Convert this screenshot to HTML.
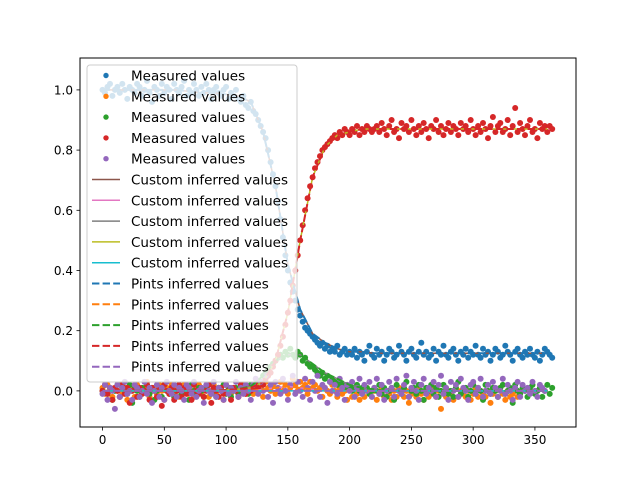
<!DOCTYPE html>
<html><head><meta charset="utf-8">
<style>
body{margin:0;background:#fff;}
svg text{font-family:"DejaVu Sans","Liberation Sans",sans-serif;}
</style></head>
<body>
<svg id="chart" width="640" height="480" xmlns="http://www.w3.org/2000/svg">
<rect width="640" height="480" fill="#fff"/>
<g id="plot"></g>
</svg>
<script>
const xTicks=[0,50,100,150,200,250,300,350];
const yTicks=[0.0,0.2,0.4,0.6,0.8,1.0];
const yTickLabels=["0.0","0.2","0.4","0.6","0.8","1.0"];
const step=2;
const measBlue=[1.00,0.99,1.01,1.02,0.98,1.00,1.01,0.99,1.02,1.00,0.97,1.01,1.00,0.99,1.02,1.01,0.98,1.00,1.03,0.99,0.96,1.01,1.00,0.98,1.02,0.99,1.01,1.00,0.97,1.02,1.00,0.99,1.01,1.03,0.98,1.00,0.99,1.02,1.00,0.98,1.01,0.99,1.02,1.00,0.97,1.00,1.01,0.99,0.98,1.00,1.01,0.97,0.99,0.98,1.00,0.97,
0.96,0.98,0.95,0.94,0.96,0.93,0.92,0.90,0.88,0.86,0.84,0.80,0.76,0.72,0.68,0.63,0.57,0.51,0.45,0.40,0.36,0.33,0.30,0.27,0.25,0.23,0.21,0.20,0.19,0.18,0.17,0.16,0.15,0.16,0.14,0.15,0.13,0.14,0.13,0.15,0.12,0.13,0.14,0.12,0.13,
0.12,0.14,0.11,0.13,0.12,0.10,0.13,0.15,0.12,0.11,0.14,0.12,0.13,0.10,0.12,0.14,0.13,0.11,0.12,0.15,0.13,0.12,0.10,0.13,0.14,0.12,0.11,0.13,0.16,0.12,0.13,0.11,0.12,0.14,0.10,0.13,0.12,0.15,0.12,0.11,0.13,0.14,0.12,0.10,0.13,0.12,0.14,0.11,0.13,0.12,0.15,0.12,0.11,0.14,0.12,0.13,0.10,0.12,0.14,0.13,0.11,0.12,0.15,0.13,0.12,0.10,0.13,0.14,0.12,0.11,0.13,0.12,0.14,0.12,0.11,0.13,0.10,0.12,0.14,0.13,0.12,0.11];
const measOrange=[0.01,-0.01,0.02,0.00,-0.02,0.01,0.00,0.02,-0.01,0.01,-0.03,0.00,0.01,-0.02,0.02,0.00,-0.01,0.01,0.03,-0.02,0.00,0.01,-0.01,0.02,0.00,-0.03,0.01,0.00,0.02,-0.01,0.01,-0.02,0.00,0.02,0.01,-0.01,0.00,-0.02,0.01,0.02,-0.01,0.00,0.01,-0.02,0.00,0.02,-0.01,0.01,0.00,-0.03,0.02,0.00,-0.01,0.01,0.00,-0.02,0.01,0.02,-0.01,0.00,0.01,
-0.01,0.02,0.00,0.01,-0.02,0.03,0.01,0.00,0.02,-0.01,0.01,0.03,0.00,0.02,-0.01,0.01,0.04,0.02,0.00,0.03,0.01,0.02,-0.01,0.03,0.01,0.02,0.00,0.01,-0.02,0.01,0.00,-0.01,0.02,0.00,-0.02,0.01,-0.01,0.00,-0.03,0.01,-0.02,0.00,-0.01,-0.03,0.00,-0.02,0.01,
-0.01,-0.02,0.00,-0.03,-0.01,0.01,-0.02,0.00,-0.01,-0.03,0.00,-0.02,0.01,-0.01,-0.02,0.00,-0.04,-0.01,0.00,-0.02,0.01,-0.01,-0.03,0.00,-0.02,-0.01,0.01,-0.02,0.00,-0.06,-0.01,-0.02,0.00,-0.01,-0.03,0.01,-0.02,0.00,-0.01,-0.02,0.00,-0.03,-0.01,0.01,-0.02,0.00,-0.01,-0.02,0.00,-0.04,-0.01,0.00,-0.02,0.01,-0.01,-0.03,0.00,-0.02,-0.01,0.00,-0.02,-0.01];
const measGreen=[0.00,0.02,-0.01,0.01,-0.03,0.00,0.02,-0.02,0.01,0.00,-0.01,0.02,-0.04,0.01,0.00,-0.02,0.01,0.00,0.02,-0.01,0.01,-0.03,0.00,0.01,-0.02,0.02,0.00,-0.01,0.01,-0.02,0.00,0.02,-0.01,0.00,0.01,-0.03,0.02,0.00,-0.01,0.01,0.00,-0.02,0.01,0.02,-0.01,0.00,-0.02,0.01,0.00,0.02,-0.01,0.01,-0.02,0.00,0.01,-0.01,0.02,0.00,0.01,-0.01,0.02,
0.01,0.02,0.03,0.03,0.05,0.06,0.07,0.08,0.09,0.10,0.11,0.12,0.11,0.13,0.12,0.14,0.12,0.11,0.13,0.12,0.10,0.11,0.09,0.08,0.08,0.07,0.06,0.05,0.06,0.04,0.05,0.03,0.04,0.03,0.02,0.03,0.02,0.01,0.02,0.01,0.00,0.01,0.02,0.00,0.01,0.00,0.01,-0.01,0.00,0.01,
0.00,0.02,-0.01,0.01,-0.02,0.00,0.01,-0.03,0.02,0.00,-0.01,0.01,0.03,-0.02,0.00,0.01,-0.01,0.02,0.00,-0.03,0.01,0.00,0.02,-0.01,0.01,-0.02,0.00,0.02,0.01,-0.01,0.00,-0.02,0.01,0.03,-0.01,0.00,0.01,-0.02,0.00,0.02,-0.01,0.01,0.00,-0.03,0.02,0.00,-0.01,0.01,0.00,-0.02,0.01,0.02,-0.01,0.00,0.01,-0.04,0.02,0.00,-0.01,0.01,0.00,-0.02,0.01,0.02,-0.01,0.00,0.01,-0.02,0.00,0.02,-0.01,0.01];
const measRed=[0.00,0.02,-0.01,0.01,-0.03,0.01,0.00,-0.02,0.02,-0.01,0.01,-0.04,0.00,0.02,-0.02,0.01,-0.01,0.00,0.02,-0.03,0.01,0.00,-0.02,0.01,-0.05,0.02,0.00,-0.01,0.01,-0.03,0.00,0.02,-0.02,0.01,-0.01,0.00,-0.03,0.02,0.00,-0.01,0.01,-0.02,0.00,0.02,-0.04,0.01,0.00,-0.02,0.01,-0.01,0.02,0.00,-0.03,0.01,0.00,-0.02,0.02,0.00,-0.01,0.01,0.00,
0.01,0.02,0.01,0.03,0.02,0.04,0.05,0.06,0.08,0.10,0.12,0.15,0.18,0.22,0.26,0.30,0.35,0.40,0.45,0.50,0.55,0.60,0.64,0.68,0.71,0.74,0.76,0.78,0.80,0.81,0.82,0.83,0.84,0.85,0.84,0.86,0.85,0.87,0.86,0.85,0.87,0.86,0.88,0.85,0.87,0.86,0.88,0.87,0.86,0.87,
0.88,0.86,0.89,0.87,0.85,0.88,0.90,0.86,0.87,0.84,0.89,0.87,0.88,0.86,0.90,0.87,0.85,0.88,0.86,0.89,0.87,0.84,0.88,0.87,0.90,0.86,0.88,0.85,0.87,0.89,0.86,0.88,0.87,0.85,0.89,0.87,0.88,0.86,0.90,0.87,0.85,0.88,0.86,0.89,0.87,0.84,0.88,0.91,0.86,0.88,0.89,0.86,0.87,0.90,0.85,0.88,0.94,0.86,0.89,0.87,0.85,0.88,0.90,0.86,0.87,0.84,0.89,0.87,0.88,0.86,0.88,0.87];
const measPurple=[-0.01,0.02,-0.03,0.01,0.00,-0.06,0.02,-0.02,0.01,0.03,-0.01,0.00,-0.03,0.02,0.01,-0.02,0.00,0.03,-0.01,0.01,-0.04,0.00,0.02,-0.02,0.01,-0.03,0.03,0.00,-0.01,0.02,-0.02,0.01,0.00,-0.03,0.02,0.01,-0.01,0.03,-0.02,0.00,0.01,-0.04,0.02,0.00,-0.01,0.03,-0.02,0.01,0.00,-0.03,0.02,-0.01,0.01,0.00,0.03,-0.02,0.01,-0.01,0.02,0.00,-0.03,
0.02,0.04,-0.01,0.03,0.00,0.05,-0.02,0.02,-0.04,0.03,0.01,-0.01,0.04,0.00,-0.03,0.02,0.05,-0.01,0.03,0.00,-0.02,0.04,0.01,-0.03,0.03,0.00,0.05,-0.02,0.02,0.01,-0.04,0.03,0.00,0.02,-0.01,0.04,0.01,-0.03,0.02,0.00,0.03,-0.02,0.01,0.04,-0.01,0.02,0.00,
0.03,-0.02,0.01,0.04,-0.01,0.02,-0.03,0.00,0.03,0.01,-0.02,0.04,0.00,-0.01,0.02,0.05,-0.02,0.01,0.03,0.00,-0.03,0.02,0.04,-0.01,0.01,0.00,0.03,-0.02,0.02,0.05,-0.01,0.01,-0.03,0.03,0.00,0.02,-0.02,0.04,0.01,0.00,-0.03,0.02,0.03,-0.01,0.01,0.04,-0.02,0.00,0.02,-0.01,0.03,0.01,-0.02,0.00,0.04,-0.01,0.02,0.00,-0.03,0.01,0.03,-0.02,0.02,0.00,0.01,-0.01,0.03,0.00,-0.02,0.02,0.01,0.00];
const fitDays=[0,10,20,30,40,50,60,70,80,90,100,110,120,130,140,150,160,170,180,190,200,210,220,230,240,250,260,270,280,290,300,310,320,330,340,350,360];
const fitBlue=[1,1,1,1,1,1,1,0.995,0.99,0.99,0.985,0.98,0.96,0.86,0.68,0.42,0.27,0.19,0.16,0.14,0.13,0.13,0.125,0.125,0.125,0.125,0.125,0.125,0.125,0.125,0.125,0.125,0.125,0.125,0.125,0.125,0.125];
const fitOrange=[0,0,0,0,0,0,0,0,0,0,0,0,0,0.005,0.01,0.015,0.01,0.005,0,0,0,0,0,0,0,0,0,0,0,0,0,0,0,0,0,0,0];
const fitGreen=[0,0,0,0,0,0,0,0,0,0,0.003,0.006,0.015,0.05,0.1,0.12,0.12,0.09,0.06,0.04,0.02,0.01,0.005,0,0,0,0,0,0,0,0,0,0,0,0,0,0];
const fitRed=[0,0,0,0,0,0,0,0,0,0,0.003,0.006,0.01,0.03,0.1,0.26,0.5,0.71,0.81,0.85,0.86,0.87,0.87,0.87,0.87,0.87,0.87,0.87,0.87,0.87,0.87,0.87,0.87,0.87,0.87,0.87,0.87];
const fitPurple=[0,0,0,0,0,0,0,0,0,0,0,0,0,0,0,0,0,0,0,0,0,0,0,0,0,0,0,0,0,0,0,0,0,0,0,0,0];

const NS="http://www.w3.org/2000/svg";
const L=80,R=576,T=58,B=427;
const xMin=-18.25,xMax=383.25,yMin=-0.12,yMax=1.106;
function sx(v){return L+(v-xMin)/(xMax-xMin)*(R-L);}
function sy(v){return B-(v-yMin)/(yMax-yMin)*(B-T);}
const g=document.getElementById('plot');
function mk(tag,attrs,parent){const e=document.createElementNS(NS,tag);for(const k in attrs)e.setAttribute(k,attrs[k]);(parent||g).appendChild(e);return e;}

const tab=["#1f77b4","#ff7f0e","#2ca02c","#d62728","#9467bd"];
const custom=["#8c564b","#e377c2","#7f7f7f","#bcbd22","#17becf"];
const meas=[measBlue,measOrange,measGreen,measRed,measPurple];
const fits=[fitBlue,fitOrange,fitGreen,fitRed,fitPurple];
const sNames=["blue","orange","green","red","purple"];

meas.forEach((arr,si)=>{
  const sg=mk('g',{});
  
  
  arr.forEach((v,i)=>{
    const c=mk('circle',{cx:sx(i*step).toFixed(1),cy:sy(v).toFixed(1),r:3,fill:tab[si]},sg);
    
    
  });
});
function linePath(arr){return arr.map((v,i)=>(i?'L':'M')+sx(fitDays[i]).toFixed(1)+' '+sy(v).toFixed(1)).join(' ');}
fits.forEach((arr,si)=>{
  const p=mk('path',{d:linePath(arr),fill:'none',stroke:custom[si],'stroke-width':1.5});
  
  
});
fits.forEach((arr,si)=>{
  const p=mk('path',{d:linePath(arr),fill:'none',stroke:tab[si],'stroke-width':2,'stroke-dasharray':'7.4,3.2'});
  
  
});
const fr=mk('rect',{x:L,y:T,width:R-L,height:B-T,fill:'none',stroke:'#000','stroke-width':1});


xTicks.forEach(t=>{
  const x=sx(t);
  const l=mk('line',{x1:x,x2:x,y1:B,y2:B+3.5,stroke:'#000','stroke-width':0.8});
  
  
  const tx=mk('text',{x:x,y:B+17,'text-anchor':'middle','font-size':'12'});
  tx.textContent=t;
  
  
});
yTicks.forEach((t,i)=>{
  const y=sy(t);
  const l=mk('line',{x1:L-3.5,x2:L,y1:y,y2:y,stroke:'#000','stroke-width':0.8});
  
  
  const tx=mk('text',{x:L-7,y:y+4.5,'text-anchor':'end','font-size':'12'});
  tx.textContent=yTickLabels[i];
  
  
});
const lg=mk('g',{});


const lb=mk('rect',{x:87,y:65,width:210,height:317,rx:3,fill:'#fff','fill-opacity':0.8,stroke:'#ccc','stroke-width':1},lg);


const labels=["Measured values","Custom inferred values","Pints inferred values"];
for(let k=0;k<15;k++){
  const grp=Math.floor(k/5),si=k%5,y=75.5+k*20.8;
  const eg=mk('g',{},lg);
  
  
  if(grp===0){mk('circle',{cx:106,cy:y,r:2.7,fill:tab[si]},eg);}
  else if(grp===1){mk('line',{x1:92,x2:120,y1:y,y2:y,stroke:custom[si],'stroke-width':1.5},eg);}
  else{mk('line',{x1:92,x2:120,y1:y,y2:y,stroke:tab[si],'stroke-width':2,'stroke-dasharray':'7.4,3.2'},eg);}
  const tx=mk('text',{x:131,y:y+5,'font-size':'13.5',fill:'#000'},eg);
  tx.textContent=labels[grp];
}
</script>
</body></html>
